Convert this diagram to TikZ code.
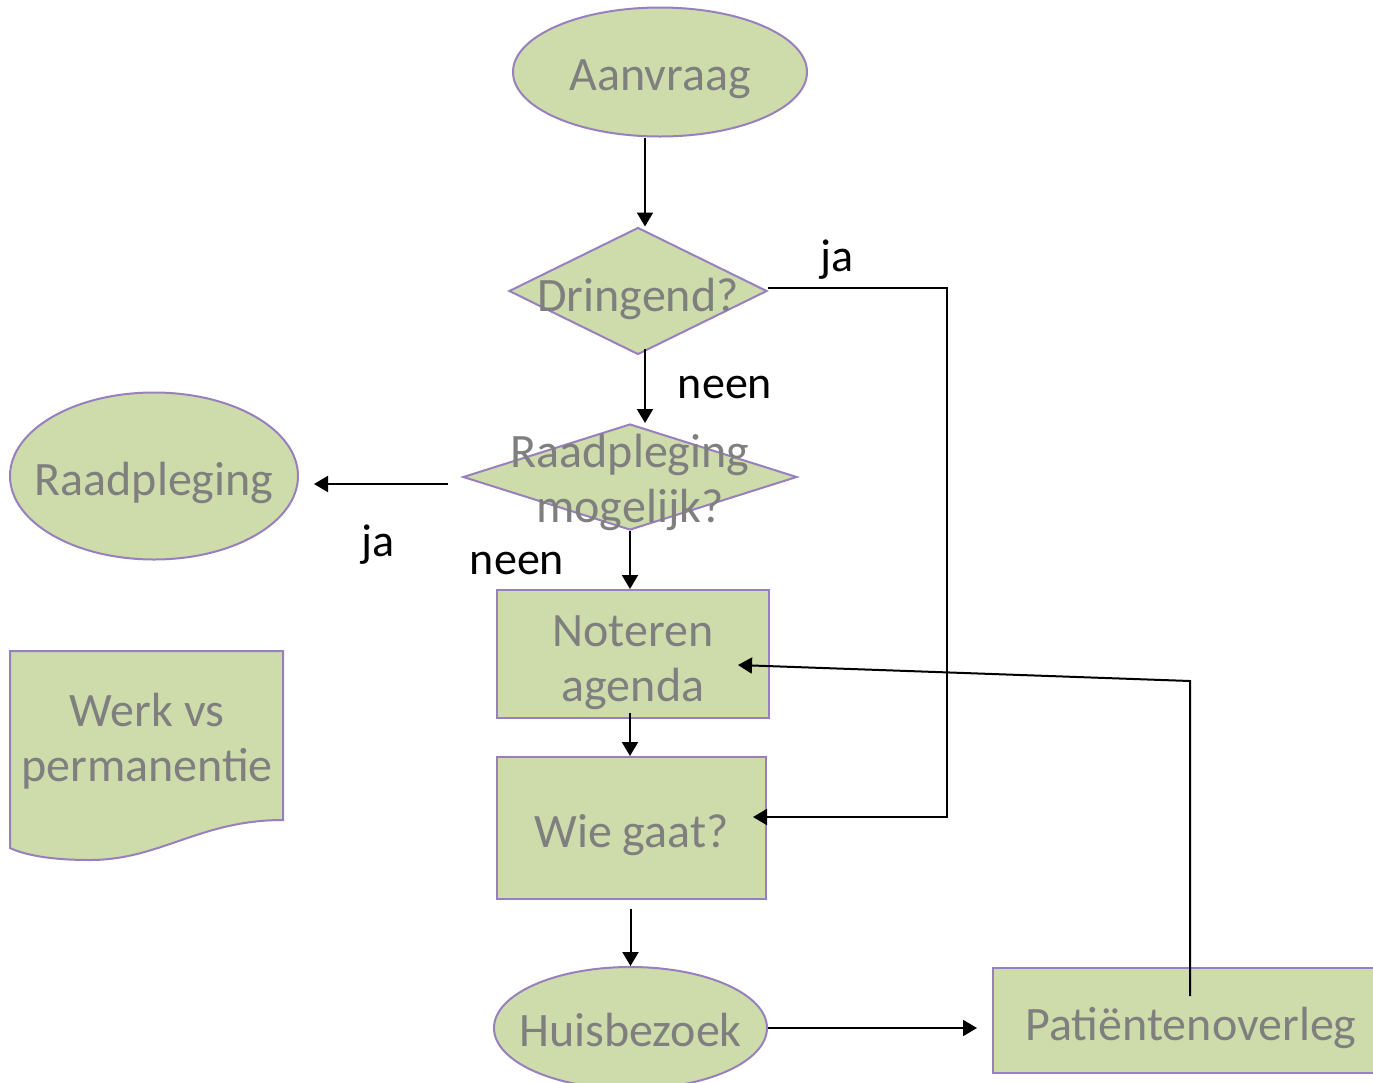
\documentclass[tikz,border=0pt]{standalone}
\usepackage{fontspec}
\setmainfont{Carlito}
\usetikzlibrary{shapes.geometric, arrows.meta}

\definecolor{boxfill}{RGB}{205,220,170}
\definecolor{boxline}{RGB}{152,128,190}
\definecolor{boxtext}{RGB}{127,127,127}

\tikzset{
    flowshape/.style = {fill = boxfill, draw = boxline, line width = 1pt, inner sep = 0pt},
    terminal/.style = {flowshape, ellipse},
    decision/.style = {flowshape, diamond},
    process/.style = {flowshape, rectangle},
    boxlabel/.style = {text = boxtext, align = center, inner sep = 0pt,
        font = \fontsize{24}{27.5}\selectfont},
    flowlabel/.style = {boxlabel, yshift = -3.5pt},
    answer/.style = {inner sep = 0pt, text = black, font = \fontsize{23}{27}\selectfont},
    flow/.style = {line width = 1pt, -{Triangle[length = 7pt, width = 8pt]}}
}

\begin{document}
\begin{tikzpicture}[x = 0.5pt, y = -0.5pt]
    \useasboundingbox (0,0) rectangle (1373,1083);
    \clip (0,0) rectangle (1373,1083);

    % Draw the flow chart shapes:
    \node [terminal, minimum width = 147pt, minimum height = 64.5pt,
        label = {[flowlabel]center:Aanvraag}] (aanvraag) at (660,72) {};
    \node [decision, minimum width = 129pt, minimum height = 63.5pt,
        label = {[boxlabel, yshift = -4pt]center:Dringend?}] (dringend) at (638,291) {};
    \node [decision, minimum width = 167pt, minimum height = 53pt,
        label = {[boxlabel, yshift = -2.5pt]center:Raadpleging\\mogelijk?}] (mogelijk) at (630,477) {};
    \node [terminal, minimum width = 144pt, minimum height = 83.5pt,
        label = {[flowlabel]center:Raadpleging}] (raadpleging) at (154,476) {};
    \node [process, minimum width = 136pt, minimum height = 64pt,
        label = {[flowlabel, yshift = -1pt]center:Noteren\\agenda}] (noteren) at (633,654) {};
    \node [process, minimum width = 134.5pt, minimum height = 71pt,
        label = {[flowlabel]center:Wie gaat?}] (wiegaat) at (631.5,828) {};
    \node [terminal, minimum width = 136.5pt, minimum height = 61pt,
        label = {[boxlabel, yshift = -1pt]center:Huisbezoek}] (huisbezoek) at (630.5,1028) {};
    \node [process, minimum width = 198pt, minimum height = 52.5pt,
        label = {[flowlabel]center:Patiëntenoverleg}] (overleg) at (1191,1020.5) {};

    % Draw the document shape:
    \draw [fill = boxfill, draw = boxline, line width = 1pt]
        (10,651) -- (283,651) -- (283,820)
        .. controls (200,820) and (160,860) .. (90,860)
        .. controls (50,860) and (25,855) .. (10,848) -- cycle;
    \node [boxlabel] (werk) at (147,741) {Werk vs\\permanentie};

    % Draw the connectors:
    \coordinate (urgentturn) at (947,288);
    \coordinate (overlegturn) at (1190,681);

    \draw [flow] ([xshift = -7.5pt]aanvraag.south) -- ([xshift = 3.5pt]dringend.north);
    \draw [flow] ([shift = {(3.5pt,3.5pt)}]dringend.south) -- ([xshift = 7.5pt]mogelijk.north);
    \draw [flow] ([yshift = 1.5pt]dringend.east) -- (urgentturn)
        |- ([shift = {(-7pt,5.5pt)}]wiegaat.east);
    \draw [flow] ([shift = {(-7pt,-3.5pt)}]mogelijk.west) -- ([shift = {(7.5pt,-4pt)}]raadpleging.east);
    \draw [flow] (mogelijk.south) -- (mogelijk.south |- noteren.north);
    \draw [flow] ([shift = {(-1.5pt,3pt)}]noteren.south) -- ([xshift = -0.75pt]wiegaat.north);
    \draw [flow] ([shift = {(-0.5pt,-4.5pt)}]wiegaat.south) -- (huisbezoek.north);
    \draw [flow, shorten > = 7.5pt] (huisbezoek.east) -- (huisbezoek.east -| overleg.west);
    \draw [flow] ([shift = {(-0.5pt,-14.5pt)}]overleg.north) -- (overlegturn)
        -- ([shift = {(-16pt,-5.5pt)}]noteren.east);

    % Draw the answer labels:
    \node [answer] (jaurgent) at (837,260) {ja};
    \node [answer] (neenurgent) at (725,387) {neen};
    \node [answer] (jaraad) at (378,545) {ja};
    \node [answer] (neenraad) at (517,563) {neen};
\end{tikzpicture}
\end{document}
